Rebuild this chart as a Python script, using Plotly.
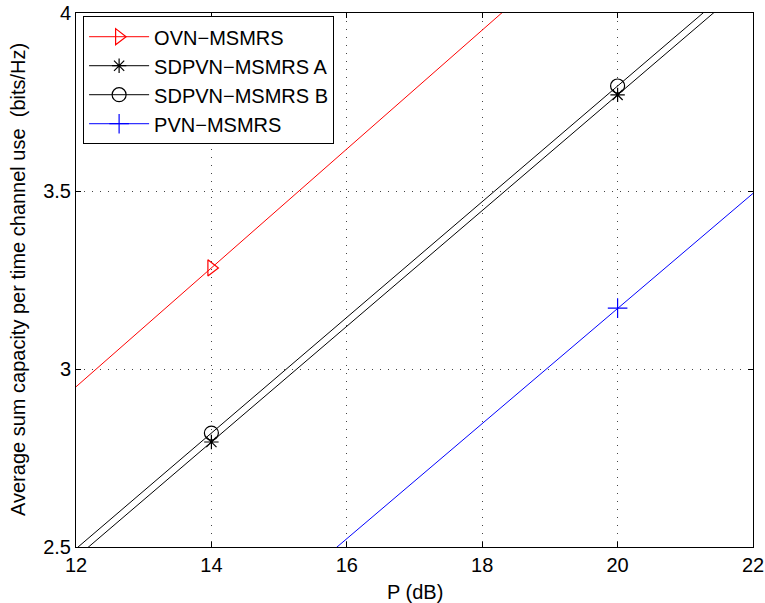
import plotly.graph_objects as go

p_db = [8, 14, 20, 26]
ovn = [2.282, 3.284, 4.286, 5.288]
sdpvn_a = [1.820, 2.795, 3.770, 4.745]
sdpvn_b = [1.845, 2.820, 3.795, 4.770]
pvn = [1.23, 2.20, 3.171, 4.14]

x_ticks = [12, 14, 16, 18, 20, 22]
y_ticks = [2.5, 3, 3.5, 4]
y_tick_text = ["2.5", "3", "3.5", "4"]

FONT = "Liberation Sans, Arial, Helvetica, sans-serif"

fig = go.Figure()
fig.add_trace(go.Scatter(x=p_db, y=ovn, name="OVN\u2212MSMRS", mode="lines+markers",
                         line=dict(color="#ff0000", width=1),
                         marker=dict(symbol="triangle-right-open", size=14,
                                     color="#ff0000", line=dict(width=1.2, color="#ff0000"))))
fig.add_trace(go.Scatter(x=p_db, y=sdpvn_a, name="SDPVN\u2212MSMRS A", mode="lines+markers",
                         line=dict(color="#000000", width=1),
                         marker=dict(symbol="asterisk-open", size=12,
                                     color="#000000", line=dict(width=1.2, color="#000000"))))
fig.add_trace(go.Scatter(x=p_db, y=sdpvn_b, name="SDPVN\u2212MSMRS B", mode="lines+markers",
                         line=dict(color="#000000", width=1),
                         marker=dict(symbol="circle-open", size=14,
                                     color="#000000", line=dict(width=1.2, color="#000000"))))
fig.add_trace(go.Scatter(x=p_db, y=pvn, name="PVN\u2212MSMRS", mode="lines+markers",
                         line=dict(color="#0000ff", width=1),
                         marker=dict(symbol="cross-thin-open", size=14,
                                     color="#0000ff", line=dict(width=1.2, color="#0000ff"))))

axis_common = dict(showline=True, linecolor="black", linewidth=1, mirror="allticks",
                   ticks="inside", ticklen=5, tickcolor="black", automargin=False,
                   showgrid=True, gridcolor="#444444", griddash="1px,7px", gridwidth=1,
                   zeroline=False, tickfont=dict(family=FONT, size=20, color="black"))

fig.update_xaxes(range=[12, 22], tickvals=x_ticks, **axis_common)
fig.update_yaxes(range=[2.5, 4], tickvals=y_ticks, ticktext=y_tick_text, **axis_common)

fig.add_annotation(text="P (dB)", xref="paper", yref="paper", x=0.5, y=0,
                   xanchor="center", yanchor="middle", yshift=-45, showarrow=False,
                   font=dict(family=FONT, size=20, color="black"))
fig.add_annotation(text="Average sum capacity per time channel use  (bits/Hz)",
                   xref="paper", yref="paper", x=0, y=0.5, xshift=-58,
                   xanchor="center", yanchor="middle", textangle=-90, showarrow=False,
                   font=dict(family=FONT, size=20, color="black"))

fig.update_layout(
    width=765, height=603,
    margin=dict(l=76, r=12, t=13, b=56, autoexpand=False),
    paper_bgcolor="white", plot_bgcolor="white",
    font=dict(family=FONT, size=20, color="black"),
    legend=dict(x=0.0105, y=0.994, xanchor="left", yanchor="top",
                bgcolor="white", bordercolor="black", borderwidth=1,
                font=dict(family=FONT, size=20, color="black"),
                itemwidth=60, tracegroupgap=0),
    showlegend=True,
)

fig.write_html("out.html", config={"displayModeBar": False},
               post_script="document.body.style.margin='0px';document.body.style.overflow='hidden';")
